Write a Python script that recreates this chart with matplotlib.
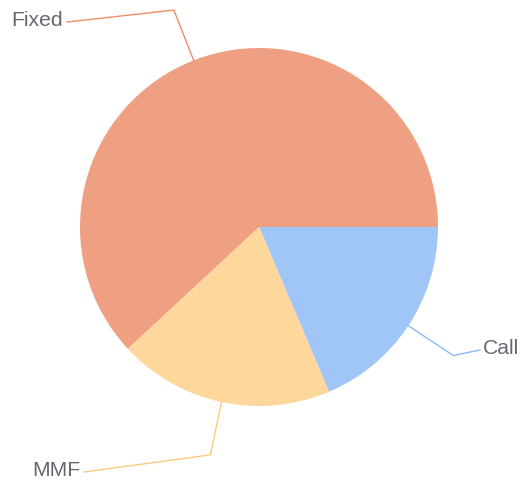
import numpy as np
import matplotlib
matplotlib.use("Agg")
import matplotlib.pyplot as plt

categories = ["Call", "MMF", "Fixed"]
values = [18.6, 19.5, 61.9]
colors = ["#A0C6F8", "#FDD79C", "#EFA083"]
line_colors = ["#8DB8F2", "#FBCB80", "#EE8C6A"]

W, H = 524, 480
fig = plt.figure(figsize=(W / 100, H / 100), dpi=100)
ax = fig.add_axes([0, 0, 1, 1])

cx, cy, r = 259, H - 227, 179
wedges, _ = ax.pie(values, colors=colors, startangle=0, counterclock=False,
                   radius=r, center=(cx, cy), frame=True,
                   wedgeprops=dict(linewidth=0, antialiased=True))
ax.set_xlim(0, W)
ax.set_ylim(0, H)
ax.set_aspect("equal")
ax.set_axis_off()

# label placement (text anchor points in pixel coords, y from top)
label_pos = {"Call": (483, 349, "left"), "MMF": (80, 470, "right"), "Fixed": (63, 21, "right")}
seg2_end = {"Call": (480, 350), "MMF": (84, 472), "Fixed": (67, 22)}
len1 = 54

for w, name, lc in zip(wedges, categories, line_colors):
    mid = np.deg2rad((w.theta1 + w.theta2) / 2)
    p0 = (cx + r * np.cos(mid), cy + r * np.sin(mid))
    p1 = (cx + (r + len1) * np.cos(mid), cy + (r + len1) * np.sin(mid))
    ex, ey = seg2_end[name]
    p2 = (ex, H - ey)
    ax.plot([p0[0], p1[0], p2[0]], [p0[1], p1[1], p2[1]], color=lc, lw=1,
            solid_joinstyle="miter")
    tx, ty, ha = label_pos[name]
    ax.text(tx, H - ty, name, ha=ha, va="center", fontsize=15.2,
            family="Liberation Sans", color="#666870")

fig.savefig("out.png", dpi=100)
